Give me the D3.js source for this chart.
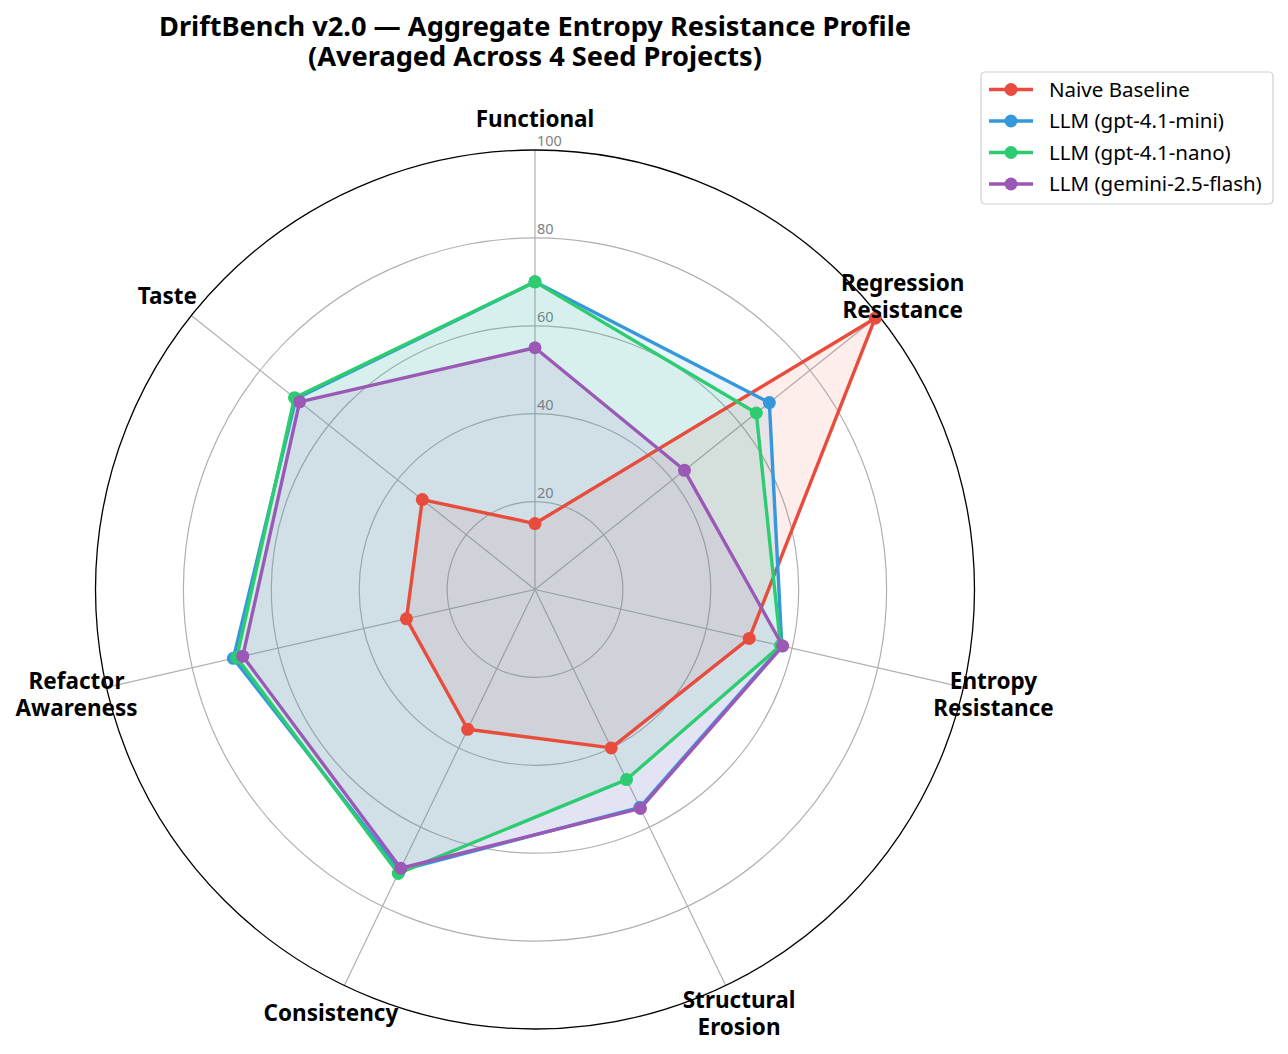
<!DOCTYPE html>
<meta charset="utf-8">
<script src="https://d3js.org/d3.v7.min.js"></script>
<style>
  body { margin: 0; background: #fff; }
  text { font-family: "Noto Sans", "DejaVu Sans", sans-serif; }
</style>
<div id="chart"></div>
<script>
// axes, clockwise from top
var categories = ["Functional", "Regression\nResistance", "Entropy\nResistance", "Structural\nErosion",
                  "Consistency", "Refactor\nAwareness", "Taste"];
var seriesNames = ["Naive Baseline", "LLM (gpt-4.1-mini)", "LLM (gpt-4.1-nano)", "LLM (gemini-2.5-flash)"];
var naive  = [15, 99, 50, 40, 35.3, 30, 32.8];
var mini   = [70, 68.2, 57.6, 55, 71, 70.4, 69.6];
var nano   = [70, 64.4, 57.3, 48, 71.7, 69.6, 70];
var gemini = [55, 43.5, 57.8, 55.3, 70.4, 68.2, 68.5];
var ticks = [20, 40, 60, 80, 100];
var colors = ["#e74c3c", "#3498db", "#2ecc71", "#9b59b6"];

var series = [naive, mini, nano, gemini].map(function(v, i) {
  return {name: seriesNames[i], values: v, color: colors[i]};
});

var W = 1288, H = 1054;
var cx = 535, cy = 589.5, R = 439.5;

var svg = d3.select("#chart").append("svg")
  .attr("width", W).attr("height", H);

var r = d3.scaleLinear().domain([0, 100]).range([0, R]);
var angle = d3.scaleLinear().domain([0, categories.length]).range([0, 2 * Math.PI]);

var g = svg.append("g").attr("transform", "translate(" + cx + "," + cy + ")");

function pt(i, v) {
  var a = angle(i);
  return [Math.sin(a) * r(v), -Math.cos(a) * r(v)];
}

// grid rings
g.selectAll(".ring").data(ticks.slice(0, -1)).enter().append("circle")
  .attr("r", function(d) { return r(d); })
  .attr("fill", "none").attr("stroke", "#b0b0b0").attr("stroke-width", 1.2);

// spokes
g.selectAll(".spoke").data(categories).enter().append("line")
  .attr("x1", 0).attr("y1", 0)
  .attr("x2", function(d, i) { return pt(i, 100)[0]; })
  .attr("y2", function(d, i) { return pt(i, 100)[1]; })
  .attr("stroke", "#b0b0b0").attr("stroke-width", 1.2);

// outer frame
g.append("circle").attr("r", r(100))
  .attr("fill", "none").attr("stroke", "#000").attr("stroke-width", 1.3);

// tick labels
g.selectAll(".tick").data(ticks).enter().append("text")
  .attr("x", 2).attr("y", function(d) { return -r(d) - 4; })
  .attr("font-size", 14.5).attr("fill", "#808080")
  .text(function(d) { return d; });

var line = d3.line().curve(d3.curveLinearClosed);

// fills first, then outlines + markers
series.forEach(function(s) {
  s.pts = s.values.map(function(v, i) { return pt(i, v); });
  g.append("path").attr("d", line(s.pts))
    .attr("fill", s.color).attr("fill-opacity", 0.1).attr("stroke", "none");
});
series.forEach(function(s) {
  g.append("path").attr("d", line(s.pts))
    .attr("fill", "none").attr("stroke", s.color).attr("stroke-width", 3.4)
    .attr("stroke-linejoin", "round");
  g.selectAll(null).data(s.pts).enter().append("circle")
    .attr("cx", function(d) { return d[0]; })
    .attr("cy", function(d) { return d[1]; })
    .attr("r", 6.5).attr("fill", s.color);
});

// axis labels
g.selectAll(".lab").data(categories).enter().append("text")
  .attr("font-size", 22.5).attr("font-weight", "bold").attr("fill", "#000")
  .attr("text-anchor", "middle")
  .each(function(d, i) {
    var p = pt(i, 107);
    var lines = d.split("\n");
    var t = d3.select(this);
    var lh = 27;
    lines.forEach(function(l, k) {
      t.append("tspan").attr("x", p[0])
        .attr("y", p[1] + (k - (lines.length - 1) / 2) * lh + 8)
        .text(l);
    });
  });

// title
var title = svg.append("text").attr("x", 535).attr("text-anchor", "middle")
  .attr("font-size", 27.2).attr("font-weight", "bold");
title.append("tspan").attr("x", 535).attr("y", 36).text("DriftBench v2.0 \u2014 Aggregate Entropy Resistance Profile");
title.append("tspan").attr("x", 535).attr("y", 66).text("(Averaged Across 4 Seed Projects)");

// legend
var leg = svg.append("g").attr("transform", "translate(981,72)");
leg.append("rect").attr("width", 292).attr("height", 132).attr("rx", 4)
  .attr("fill", "#fff").attr("stroke", "#d0d0d0").attr("stroke-width", 1.2);
series.forEach(function(s, i) {
  var y = 17.5 + i * 31.5;
  leg.append("line").attr("x1", 8).attr("x2", 52).attr("y1", y).attr("y2", y)
    .attr("stroke", s.color).attr("stroke-width", 3.4);
  leg.append("circle").attr("cx", 30).attr("cy", y).attr("r", 6.5).attr("fill", s.color);
  leg.append("text").attr("x", 68).attr("y", y + 7).attr("font-size", 20.5)
    .attr("fill", "#000").text(s.name);
});
</script>
